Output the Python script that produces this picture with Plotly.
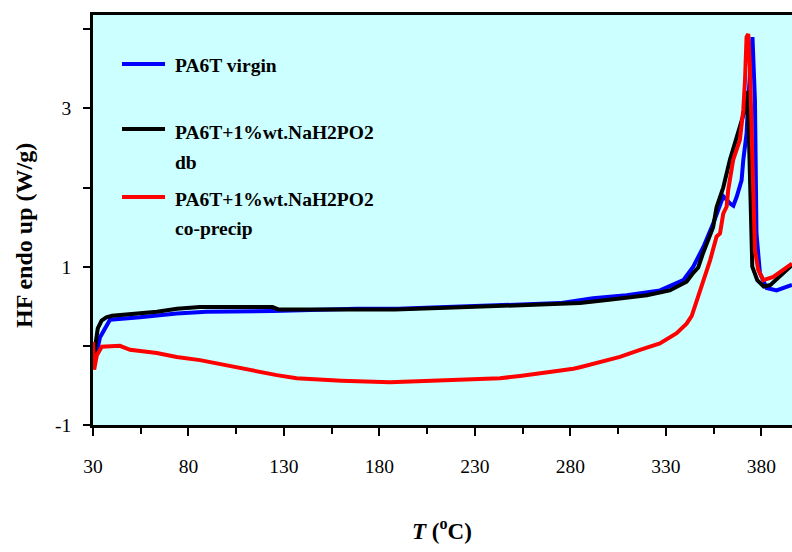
import plotly.graph_objects as go

# DSC heat-flow traces, temperature in °C, heat flow in W/g (endo up)
virgin_T = [30.2, 31.0, 33.7, 38.9, 54.6, 73.8, 89.5, 124.4, 168.1, 190.0, 215.0, 243.0,
            264.0, 274.5, 291.8, 309.4, 326.9, 339.1, 344.3, 349.6, 354.8, 360.0, 363.5,
            365.3, 367.0, 369.6, 370.5, 372.2, 373.1, 374.8, 375.3, 376.6, 377.1, 377.4,
            379.2, 382.7, 387.9, 393.2, 396.0]
virgin_HF = [-0.05, -0.18, 0.11, 0.33, 0.36, 0.41, 0.43, 0.44, 0.47, 0.47, 0.49, 0.51,
             0.53, 0.54, 0.60, 0.64, 0.70, 0.83, 1.00, 1.25, 1.55, 1.89, 1.80,
             1.77, 1.88, 2.09, 2.35, 2.68, 3.10, 3.86, 3.90, 3.10, 2.26, 1.42,
             0.92, 0.73, 0.70, 0.75, 0.77]

db_T = [30.0, 30.5, 31.5, 32.5, 34.5, 37.0, 40.0, 54.6, 63.5, 74.0, 86.0, 110.0, 124.0,
        127.0, 150.0, 175.0, 188.0, 215.0, 243.0, 264.0, 285.0, 302.5, 320.0, 332.0,
        340.8, 344.2, 346.9, 349.4, 353.0, 354.7, 356.5, 360.0, 363.5, 366.1, 368.7,
        371.3, 372.2, 372.8, 373.5, 374.5, 375.2, 377.8, 381.2, 384.7, 391.7, 396.0]
db_HF = [0.00, -0.15, 0.05, 0.22, 0.32, 0.36, 0.38, 0.41, 0.43, 0.47, 0.49, 0.49, 0.49,
         0.46, 0.46, 0.46, 0.46, 0.48, 0.50, 0.52, 0.54, 0.59, 0.64, 0.70,
         0.81, 0.92, 0.99, 1.17, 1.42, 1.50, 1.75, 2.00, 2.35, 2.56, 2.77,
         2.98, 3.10, 3.22, 2.60, 1.50, 1.00, 0.83, 0.75, 0.77, 0.92, 1.02]

coprecip_T = [30.0, 30.6, 32.0, 34.6, 44.1, 49.4, 63.4, 73.8, 86.0, 98.1, 112.2, 126.2,
              136.6, 148.8, 160.0, 185.5, 215.2, 243.1, 253.6, 264.0, 271.0, 281.5,
              285.0, 295.4, 305.9, 316.4, 326.8, 335.6, 340.8, 343.5, 345.2, 347.8, 349.6,
              353.1, 356.5, 358.3, 360.0, 361.8, 362.6, 365.2, 368.7, 370.5, 371.4,
              372.2, 373.1, 374.0, 374.9, 375.7, 376.6, 378.3, 381.0, 386.2, 391.4, 396.0]
coprecip_HF = [0.05, -0.30, -0.12, -0.01, 0.00, -0.05, -0.09, -0.14, -0.18, -0.24, -0.31, -0.37,
               -0.41, -0.43, -0.44, -0.46, -0.44, -0.41, -0.38, -0.35, -0.33, -0.29,
               -0.27, -0.20, -0.14, -0.05, 0.03, 0.16, 0.28, 0.38, 0.50, 0.68, 0.80,
               1.08, 1.38, 1.42, 1.67, 1.76, 1.97, 2.35, 2.60, 2.98, 3.36,
               3.90, 3.94, 3.52, 2.68, 1.84, 1.21, 0.96, 0.83, 0.87, 0.96, 1.04]

x_ticks = [30, 80, 130, 180, 230, 280, 330, 380]
y_ticks = [-1, 1, 3]

series_names = ["PA6T virgin", "PA6T+1%wt.NaH2PO2<br>db", "PA6T+1%wt.NaH2PO2<br>co-precip"]
series_colors = ["#0000FF", "#000000", "#FF0000"]

SERIF = "'Liberation Serif', 'Times New Roman', Times, serif"

fig = go.Figure()
for T, HF, name, color in zip([virgin_T, db_T, coprecip_T],
                              [virgin_HF, db_HF, coprecip_HF],
                              series_names, series_colors):
    fig.add_trace(go.Scatter(x=T, y=HF, mode="lines", name=name,
                             line=dict(color=color, width=4), showlegend=False))

# Legend drawn inside the plot area: line samples and labels
legend_rows = [
    (0.8805, [("PA6T virgin", 0.877)]),
    (0.722, [("PA6T+1%wt.NaH2PO2", 0.714), ("db", 0.640)]),
    (0.556, [("PA6T+1%wt.NaH2PO2", 0.549), ("co-precip", 0.480)]),
]
shapes = []
annotations = []
for (ly, lines), color in zip(legend_rows, series_colors):
    shapes.append(dict(type="line", xref="paper", yref="paper",
                       x0=0.0415, x1=0.103, y0=ly, y1=ly,
                       line=dict(color=color, width=4)))
    for text, ty in lines:
        annotations.append(dict(xref="paper", yref="paper", x=0.114, y=ty,
                                xanchor="left", yanchor="middle", showarrow=False,
                                text="<b>" + text + "</b>",
                                font=dict(family=SERIF, size=19.5, color="black")))

# Axis titles
annotations.append(dict(xref="paper", yref="paper", x=-0.0987, y=0.461,
                        xanchor="center", yanchor="middle", showarrow=False,
                        textangle=-90, text="<b>HF endo up (W/g)</b>",
                        font=dict(family=SERIF, size=24, color="black")))
annotations.append(dict(xref="paper", yref="paper", x=0.4993, y=-0.256,
                        xanchor="center", yanchor="middle", showarrow=False,
                        text="<b><i>T</i> (<sup>o</sup>C)</b>",
                        font=dict(family=SERIF, size=23, color="black")))

fig.update_layout(
    width=792, height=552,
    margin=dict(l=93, r=0, t=15, b=127),
    paper_bgcolor="white",
    plot_bgcolor="#CCFFFF",
    shapes=shapes,
    annotations=annotations,
    font=dict(family=SERIF, color="black"),
    xaxis=dict(range=[30, 396], tickvals=x_ticks, ticktext=[str(v) for v in x_ticks],
               showgrid=False, zeroline=False,
               showline=True, linecolor="black", linewidth=2.5, mirror=True,
               ticks="outside", ticklen=8, tickwidth=2, tickcolor="black",
               ticklabelstandoff=14,
               tickfont=dict(family=SERIF, size=19.5, color="black"),
               minor=dict(tick0=30, dtick=25, ticks="outside", ticklen=6,
                          tickwidth=2, tickcolor="black", showgrid=False)),
    yaxis=dict(range=[-1, 4.18], tickvals=y_ticks, ticktext=[str(v) for v in y_ticks],
               showgrid=False, zeroline=False,
               showline=True, linecolor="black", linewidth=2.5,
               ticks="outside", ticklen=7, tickwidth=2, tickcolor="black",
               ticklabelstandoff=8,
               tickfont=dict(family=SERIF, size=19.5, color="black"),
               minor=dict(tick0=-1, dtick=1, ticks="outside", ticklen=7,
                          tickwidth=2, tickcolor="black", showgrid=False)),
)

fig.write_html("out.html")
